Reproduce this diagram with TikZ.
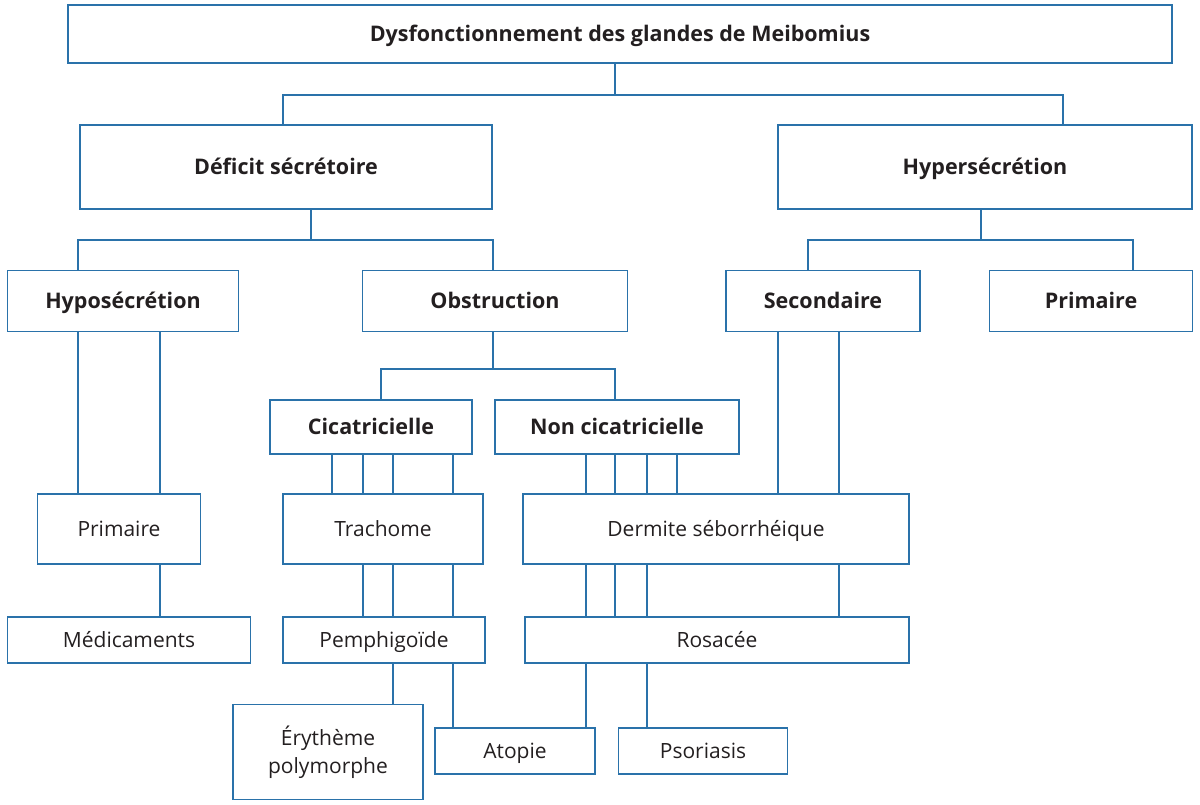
\documentclass[tikz,border=0pt]{standalone}
\usepackage{fontspec}
\setmainfont{Open Sans}
\definecolor{mgBlue}{HTML}{2A72AA}
\definecolor{mgText}{HTML}{231F20}

\begin{document}
\begin{tikzpicture}[x=1pt, y=-1pt,
      every node/.style={font=\fontsize{21}{28}\selectfont, text=mgText},
      box/.style={draw=mgBlue, line width=1.6pt, inner sep=0pt, align=center,
                  text height=15pt, text depth=0pt},
      head/.style={box, font=\fontsize{21.5}{28}\selectfont\bfseries},
      link/.style={draw=mgBlue, line width=1.3pt}
    ]
    \useasboundingbox (0,0) rectangle (1200,804);

    % --- levels 1 to 3 (bold) ---
    \node[head, minimum width=1104pt, minimum height=58pt] (top) at (620,34) {Dysfonctionnement des glandes de Meibomius};
    \node[head, minimum width=412pt, minimum height=84pt] (def) at (286,167) {Déficit sécrétoire};
    \node[head, minimum width=414pt, minimum height=84pt] (hyper) at (985,167) {Hypersécrétion};
    \node[head, minimum width=231pt, minimum height=61pt] (hypo) at (123,301) {Hyposécrétion};
    \node[head, minimum width=265pt, minimum height=61pt] (obst) at (495,301) {Obstruction};
    \node[head, minimum width=194pt, minimum height=61pt] (sec) at (823,301) {Secondaire};
    \node[head, minimum width=203pt, minimum height=61pt] (prim) at (1091,301) {Primaire};
    \node[head, minimum width=202pt, minimum height=54pt] (cic) at (371,427) {Cicatricielle};
    \node[head, minimum width=244pt, minimum height=54pt] (noncic) at (617,427) {Non cicatricielle};

    % --- causes ---
    \node[box, minimum width=163pt, minimum height=70pt] (primb) at (119,529) {Primaire};
    \node[box, minimum width=200pt, minimum height=70pt] (trach) at (383,529) {Trachome};
    \node[box, minimum width=386pt, minimum height=70pt] (derm) at (716,529) {Dermite séborrhéique};
    \node[box, minimum width=243pt, minimum height=46pt] (medic) at (129,640) {Médicaments};
    \node[box, minimum width=202pt, minimum height=46pt] (pemph) at (384,640) {Pemphigoïde};
    \node[box, minimum width=384pt, minimum height=46pt] (rosa) at (717,640) {Rosacée};
    \node[box, minimum width=190pt, minimum height=95pt, text height={}, text depth={}] (ery) at (328,752) {Érythème\\polymorphe};
    \node[box, minimum width=160pt, minimum height=46pt] (atop) at (515,751) {Atopie};
    \node[box, minimum width=169pt, minimum height=46pt] (psor) at (703,751) {Psoriasis};

    % --- tree splits ---
    \coordinate (j1) at (615,95);
    \coordinate (j2) at (311,240);
    \coordinate (j3) at (981,240);
    \coordinate (j4) at (493,369);
    \draw[link] (top.south -| j1) -- (j1);
    \draw[link] (def.north -| 283,0) |- (j1) -| (hyper.north -| 1063,0);
    \draw[link] (def.south -| j2) -- (j2);
    \draw[link] (hypo.north -| 78,0) |- (j2) -| (obst.north -| 493,0);
    \draw[link] (hyper.south -| j3) -- (j3);
    \draw[link] (sec.north -| 808,0) |- (j3) -| (prim.north -| 1133,0);
    \draw[link] (obst.south -| j4) -- (j4);
    \draw[link] (cic.north -| 381,0) |- (j4) -| (noncic.north -| 615,0);

    % --- links to causes ---
    \foreach \x in {78,160} \draw[link] (hypo.south -| \x,0) -- (primb.north -| \x,0);
    \draw[link] (primb.south -| 160,0) -- (medic.north -| 160,0);
    \foreach \x in {332,363,393,453} \draw[link] (cic.south -| \x,0) -- (trach.north -| \x,0);
    \foreach \x in {363,393,453} \draw[link] (trach.south -| \x,0) -- (pemph.north -| \x,0);
    \draw[link] (pemph.south -| 393,0) -- (ery.north -| 393,0);
    \draw[link] (pemph.south -| 453,0) -- (atop.north -| 453,0);
    \foreach \x in {586,615,647,677} \draw[link] (noncic.south -| \x,0) -- (derm.north -| \x,0);
    \foreach \x in {778,839} \draw[link] (sec.south -| \x,0) -- (derm.north -| \x,0);
    \foreach \x in {586,615,647,839} \draw[link] (derm.south -| \x,0) -- (rosa.north -| \x,0);
    \draw[link] (rosa.south -| 586,0) -- (atop.north -| 586,0);
    \draw[link] (rosa.south -| 647,0) -- (psor.north -| 647,0);
  \end{tikzpicture}
\end{document}
